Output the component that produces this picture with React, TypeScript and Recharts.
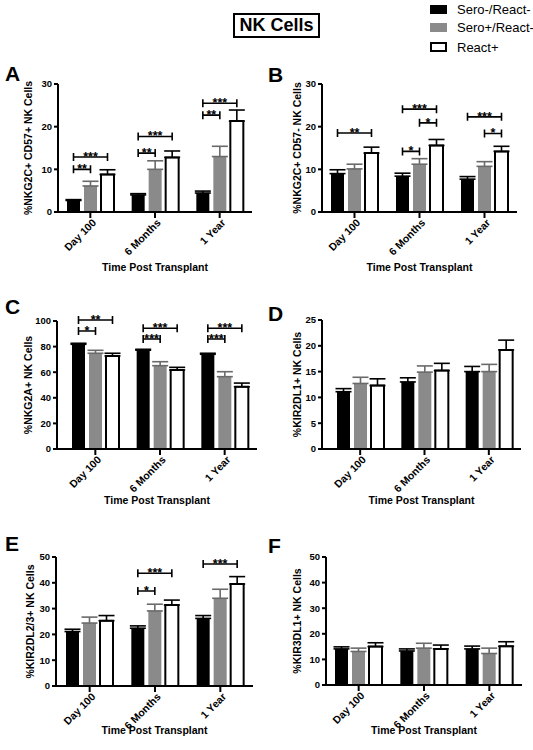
import React from 'react';
import { BarChart, Bar, XAxis, YAxis, ErrorBar } from 'recharts';

const FONT = "'Liberation Sans', Arial, Helvetica, sans-serif";
const GRAY = '#8a8a8a';
const BAR = 13;
const GAP = 4;

const timepoints = ['Day 100', '6 Months', '1 Year'];
const groups = ['Sero-/React-', 'Sero+/React-', 'React+'];

// A: NKG2C+ CD57+
const aNeg = [2.7, 4.0, 4.45];
const aNegErr = [0.2, 0.3, 0.45];
const aPos = [6.1, 10.0, 13.0];
const aPosErr = [1.1, 2.0, 2.4];
const aReact = [8.8, 12.8, 21.3];
const aReactErr = [1.1, 1.5, 2.6];
const aBrackets = [
  { at: 0, from: 0, to: 1, y: 10.0, text: '**' },
  { at: 0, from: 0, to: 2, y: 12.9, text: '***' },
  { at: 1, from: 0, to: 1, y: 13.8, text: '**' },
  { at: 1, from: 0, to: 2, y: 17.7, text: '***' },
  { at: 2, from: 0, to: 1, y: 22.7, text: '**' },
  { at: 2, from: 0, to: 2, y: 25.5, text: '***' },
];

// B: NKG2C+ CD57-
const bNeg = [9.0, 8.4, 7.7];
const bNegErr = [0.9, 0.7, 0.6];
const bPos = [10.1, 11.2, 10.7];
const bPosErr = [1.1, 1.3, 1.1];
const bReact = [13.8, 15.6, 14.2];
const bReactErr = [1.4, 1.4, 1.2];
const bBrackets = [
  { at: 0, from: 0, to: 2, y: 18.5, text: '**' },
  { at: 1, from: 0, to: 1, y: 14.2, text: '*' },
  { at: 1, from: 1, to: 2, y: 20.9, text: '*' },
  { at: 1, from: 0, to: 2, y: 24.1, text: '***' },
  { at: 2, from: 1, to: 2, y: 18.4, text: '*' },
  { at: 2, from: 0, to: 2, y: 22.3, text: '***' },
];

// C: NKG2A+
const cNeg = [81.8, 77.2, 74.0];
const cNegErr = [0.8, 0.7, 0.8];
const cPos = [74.8, 65.1, 56.5];
const cPosErr = [2.3, 3.1, 3.9];
const cReact = [72.7, 61.7, 48.6];
const cReactErr = [2.1, 2.1, 2.9];
const cBrackets = [
  { at: 0, from: 0, to: 1, y: 92.2, text: '*' },
  { at: 0, from: 0, to: 2, y: 100.8, text: '**' },
  { at: 1, from: 0, to: 1, y: 85.9, text: '***' },
  { at: 1, from: 0, to: 2, y: 94.3, text: '***' },
  { at: 2, from: 0, to: 1, y: 85.9, text: '***' },
  { at: 2, from: 0, to: 2, y: 94.3, text: '***' },
];

// D: KIR2DL1+
const dNeg = [11.1, 13.0, 15.0];
const dNegErr = [0.6, 0.8, 1.0];
const dPos = [12.7, 14.9, 15.0];
const dPosErr = [1.2, 1.2, 1.4];
const dReact = [12.3, 15.2, 19.2];
const dReactErr = [1.3, 1.4, 1.9];

// E: KIR2DL2/3+
const eNeg = [21.1, 22.4, 26.2];
const eNegErr = [0.9, 0.9, 1.1];
const ePos = [24.4, 29.1, 34.0];
const ePosErr = [2.3, 2.6, 3.5];
const eReact = [25.3, 31.4, 39.5];
const eReactErr = [2.0, 1.9, 2.9];
const eBrackets = [
  { at: 1, from: 0, to: 1, y: 36.8, text: '*' },
  { at: 1, from: 0, to: 2, y: 43.7, text: '***' },
  { at: 2, from: 0, to: 2, y: 47.3, text: '***' },
];

// F: KIR3DL1+
const fNeg = [14.1, 13.3, 14.1];
const fNegErr = [0.8, 0.8, 1.1];
const fPos = [13.1, 14.4, 12.3];
const fPosErr = [1.3, 1.9, 2.1];
const fReact = [15.0, 14.1, 15.1];
const fReactErr = [1.5, 1.5, 1.8];

type Bracket = { at: number; from: number; to: number; y: number; text: string };

const panels = [
  { letter: 'A', yLabel: '%NKG2C+ CD57+ NK Cells', max: 30, ticks: [0, 10, 20, 30],
    neg: aNeg, negErr: aNegErr, pos: aPos, posErr: aPosErr, react: aReact, reactErr: aReactErr, brackets: aBrackets,
    left: 0, top: 60, width: 265, height: 215, plotLeft: 58, plotTop: 84, plotRight: 252, plotBottom: 212, padLeft: 0, yLabelX: 28, letterTop: 63 },
  { letter: 'B', yLabel: '%NKG2C+ CD57-  NK Cells', max: 30, ticks: [0, 10, 20, 30],
    neg: bNeg, negErr: bNegErr, pos: bPos, posErr: bPosErr, react: bReact, reactErr: bReactErr, brackets: bBrackets,
    left: 265, top: 60, width: 268, height: 215, plotLeft: 322, plotTop: 84, plotRight: 517, plotBottom: 212, padLeft: 0, yLabelX: 297, letterTop: 64 },
  { letter: 'C', yLabel: '%NKG2A+ NK Cells', max: 100, ticks: [0, 20, 40, 60, 80, 100],
    neg: cNeg, negErr: cNegErr, pos: cPos, posErr: cPosErr, react: cReact, reactErr: cReactErr, brackets: cBrackets,
    left: 0, top: 295, width: 265, height: 213, plotLeft: 57, plotTop: 321, plotRight: 257, plotBottom: 449, padLeft: 6, yLabelX: 28, letterTop: 296 },
  { letter: 'D', yLabel: '%KIR2DL1+ NK Cells', max: 25, ticks: [0, 5, 10, 15, 20, 25],
    neg: dNeg, negErr: dNegErr, pos: dPos, posErr: dPosErr, react: dReact, reactErr: dReactErr, brackets: [] as Bracket[],
    left: 265, top: 295, width: 268, height: 213, plotLeft: 322, plotTop: 320, plotRight: 521, plotBottom: 449, padLeft: 6, yLabelX: 297, letterTop: 303 },
  { letter: 'E', yLabel: '%KIR2DL2/3+ NK Cells', max: 50, ticks: [0, 10, 20, 30, 40, 50],
    neg: eNeg, negErr: eNegErr, pos: ePos, posErr: ePosErr, react: eReact, reactErr: eReactErr, brackets: eBrackets,
    left: 0, top: 530, width: 265, height: 208, plotLeft: 56, plotTop: 557, plotRight: 253, plotBottom: 686, padLeft: 1, yLabelX: 30, letterTop: 533 },
  { letter: 'F', yLabel: '%KIR3DL1+ NK Cells', max: 50, ticks: [0, 10, 20, 30, 40, 50],
    neg: fNeg, negErr: fNegErr, pos: fPos, posErr: fPosErr, react: fReact, reactErr: fReactErr, brackets: [] as Bracket[],
    left: 265, top: 530, width: 268, height: 208, plotLeft: 326, plotTop: 557, plotRight: 522, plotBottom: 685, padLeft: 0, yLabelX: 297, letterTop: 535 },
];

const Y_W = 45;

function CatTick(props: any) {
  const { x, y, payload } = props;
  const tx = x + 2;
  const ty = y + 1;
  return (
    <text x={tx} y={ty} transform={`rotate(-45 ${tx} ${ty})`} textAnchor="end" dy="0.6em"
      fontSize={10.5} fontWeight="bold" fontFamily={FONT} fill="#000">
      {payload.value}
    </text>
  );
}

// black bar + the significance brackets for its time point
function NegBar(props: any) {
  const { x, y, width, height, index, payload, brackets } = props;
  const unit = payload.neg ? height / payload.neg : 0;
  const base = y + height;
  const cx0 = x + width / 2;
  return (
    <g>
      <rect x={x} y={y} width={width} height={height} fill="#000" />
      {(brackets as Bracket[]).filter((b) => b.at === index).map((b, i) => {
        const xa = cx0 + b.from * (width + GAP);
        const xb = cx0 + b.to * (width + GAP);
        const yy = base - b.y * unit;
        return (
          <g key={i}>
            <path d={`M${xa},${yy - 4}V${yy + 4}M${xa},${yy}H${xb}M${xb},${yy - 4}V${yy + 4}`}
              stroke="#000" strokeWidth={1.6} fill="none" />
            <text x={(xa + xb) / 2} y={yy + 4} textAnchor="middle" fontSize={12.5}
              fontWeight="bold" fontFamily={FONT} fill="#000">{b.text}</text>
          </g>
        );
      })}
    </g>
  );
}

function Panel({ p }: { p: (typeof panels)[number] }) {
  const data = timepoints.map((t, i) => ({
    t,
    neg: p.neg[i], negE: [0, p.negErr[i]],
    pos: p.pos[i], posE: [0, p.posErr[i]],
    react: p.react[i], reactE: [0, p.reactErr[i]],
  }));
  const margin = {
    top: p.plotTop - p.top,
    right: p.left + p.width - p.plotRight,
    left: p.plotLeft - p.left - Y_W,
    bottom: 0,
  };
  const xH = p.top + p.height - p.plotBottom;
  const axisStyle = { stroke: '#000', strokeWidth: 2 };
  return (
    <div style={{ position: 'absolute', left: p.left, top: p.top }}>
      <BarChart width={p.width} height={p.height} data={data} margin={margin} barSize={BAR} barGap={GAP}>
        <XAxis dataKey="t" height={xH} interval={0} axisLine={axisStyle} tickLine={axisStyle} tickSize={6} tickMargin={0}
          tick={<CatTick />} padding={{ left: p.padLeft, right: 0 }}
          label={{ value: 'Time Post Transplant', position: 'insideBottom', offset: 4,
            style: { fontSize: 10.5, fontWeight: 'bold', fontFamily: FONT, fill: '#000' } }} />
        <YAxis width={Y_W} type="number" domain={[0, p.max]} ticks={p.ticks} interval={0}
          axisLine={axisStyle} tickLine={axisStyle} tickSize={4} tickMargin={2}
          tick={{ fontSize: 9.5, fontWeight: 'bold', fontFamily: FONT, fill: '#000' }}
          label={{ value: p.yLabel, angle: -90, position: 'insideLeft', offset: p.yLabelX - p.plotLeft + Y_W,
            style: { textAnchor: 'middle', fontSize: 10.5, fontWeight: 'bold', fontFamily: FONT, fill: '#000' } }} />
        <Bar dataKey="neg" name={groups[0]} fill="#000" isAnimationActive={false}
          shape={(sp: any) => <NegBar {...sp} brackets={p.brackets} />}>
          <ErrorBar dataKey="negE" width={8} stroke="#000" strokeWidth={1.6} direction="y" />
        </Bar>
        <Bar dataKey="pos" name={groups[1]} fill={GRAY} isAnimationActive={false}>
          <ErrorBar dataKey="posE" width={8} stroke="#6a6a6a" strokeWidth={1.6} direction="y" />
        </Bar>
        <Bar dataKey="react" name={groups[2]} fill="#fff" stroke="#000" strokeWidth={2} isAnimationActive={false}>
          <ErrorBar dataKey="reactE" width={8} stroke="#000" strokeWidth={1.6} direction="y" />
        </Bar>
      </BarChart>
    </div>
  );
}

const legendFills = ['#000', GRAY, '#fff'];

export default function App() {
  return (
    <div style={{ position: 'absolute', left: 0, top: 0, width: 533, height: 750, background: '#fff', fontFamily: FONT, color: '#000' }}>
      <div style={{ position: 'absolute', left: 233, top: 13, width: 83, height: 21, border: '2px solid #000',
        fontSize: 18, fontWeight: 'bold', lineHeight: '21px', textAlign: 'center' }}>NK Cells</div>
      {groups.map((g, i) => (
        <div key={g} style={{ position: 'absolute', left: 430, top: [2, 20, 40][i], height: 14, display: 'flex',
          alignItems: 'center', whiteSpace: 'nowrap' }}>
          <span style={{ width: i === 2 ? 13 : 17, height: i === 2 ? 6 : 9, background: legendFills[i],
            border: i === 2 ? '2px solid #000' : 'none', display: 'inline-block', flex: 'none' }} />
          <span style={{ marginLeft: 10, fontSize: 13 }}>{g}</span>
        </div>
      ))}
      {panels.map((p) => (
        <Panel key={p.letter} p={p} />
      ))}
      {panels.map((p) => (
        <div key={'l' + p.letter} style={{ position: 'absolute', left: p.left + (p.left ? 3 : 5), top: p.letterTop,
          fontSize: 21, fontWeight: 'bold', lineHeight: '21px' }}>{p.letter}</div>
      ))}
    </div>
  );
}
